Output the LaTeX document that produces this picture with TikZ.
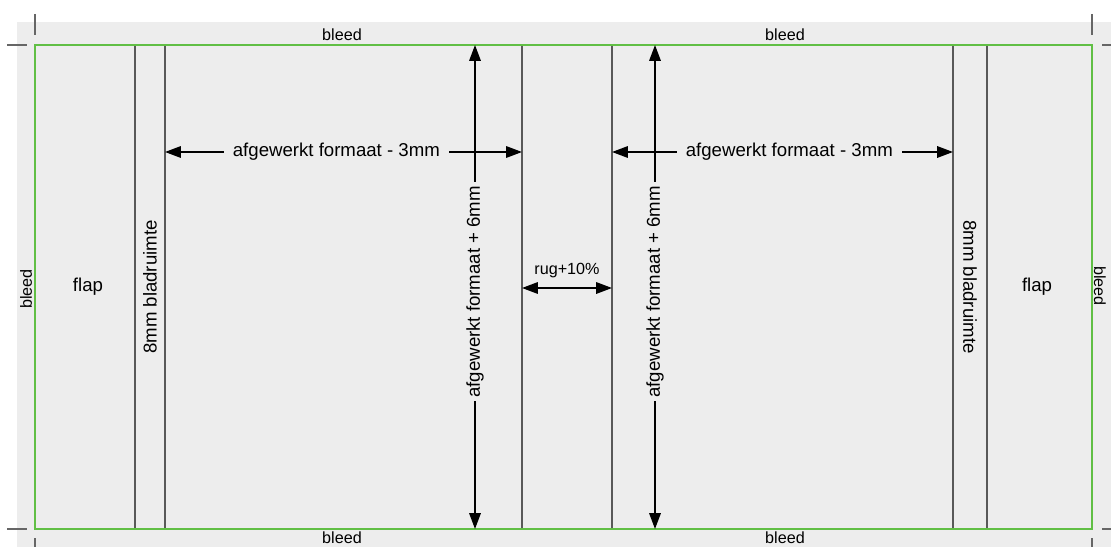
\documentclass[tikz,border=0pt]{standalone}
\usepackage{fontspec}
\setmainfont{Liberation Sans}
\usepackage{xcolor}
\definecolor{bg}{rgb}{0.93,0.93,0.93}
\definecolor{g}{rgb}{0.38,0.75,0.27}
\usepackage{tikz}
\usetikzlibrary{arrows.meta, positioning, calc}
\tikzstyle{fold} = [draw=black!65, line width=0.7pt]
\tikzstyle{crop} = [draw=black!60, line width=0.9pt]
\tikzstyle{dim} = [line width=1pt, {Triangle[length=9pt,width=6.5pt]}-{Triangle[length=9pt,width=6.5pt]}]
\tikzstyle{lbl} = [font=\fontsize{10.6}{12}\selectfont, inner sep=0pt]
\tikzstyle{small} = [font=\fontsize{9.2}{11}\selectfont, inner sep=0pt]

\begin{document}
\begin{tikzpicture}[x=0.02cm, y=-0.02cm]
    \useasboundingbox (0,0) rectangle (1111,547);
    \fill[bg] (17,22) rectangle (1111,547);

    % crop marks
    \draw[crop] (35,14) -- (35,35);
    \draw[crop] (7,45) -- (27,45);
    \draw[crop] (1092,14) -- (1092,35);
    \draw[crop] (1102,45) -- (1111,45);
    \draw[crop] (7,529) -- (27,529);
    \draw[crop] (35,538) -- (35,547);
    \draw[crop] (1102,529) -- (1111,529);
    \draw[crop] (1092,538) -- (1092,547);

    % folds
    \foreach \x/\n in {135/fa,165/fb,522/sa,612/sb,953/fc,987/fd}{
        \coordinate (\n t) at (\x,45);
        \coordinate (\n b) at (\x,529);
        \draw[fold] (\n t) -- (\n b);
    }

    % trim box
    \draw[g, line width=1.2pt] (35,45) rectangle (1092,529);

    % bleed labels
    \node[small] (bl1) at (342,35) {bleed};
    \node[small] (bl2) at (785,35) {bleed};
    \node[small] (bl3) at (342,538) {bleed};
    \node[small] (bl4) at (785,538) {bleed};
    \node[small, rotate=90] (bl5) at (26,289) {bleed};
    \node[small, rotate=-90] (bl6) at (1100,286) {bleed};

    % flaps
    \node[lbl] (flapl) at (88,287) {flap};
    \node[lbl] (flapr) at (1037,287) {flap};
    \node[lbl, rotate=90] (gutl) at (150,287) {8mm bladruimte};
    \node[lbl, rotate=-90] (gutr) at (970,287) {8mm bladruimte};

    % height arrows
    \coordinate (hlt) at (475,45);
    \coordinate (hlb) at (475,529);
    \coordinate (hrt) at (655,45);
    \coordinate (hrb) at (655,529);
    \draw[dim] (hlb) -- node[lbl, pos=0.49, rotate=90, fill=bg, inner xsep=2pt] {afgewerkt formaat + 6mm} (hlt);
    \draw[dim] (hrb) -- node[lbl, pos=0.49, rotate=90, fill=bg, inner xsep=2pt] {afgewerkt formaat + 6mm} (hrt);

    % width arrows
    \coordinate (wla) at (165,152);
    \coordinate (wlb) at (522,152);
    \coordinate (wra) at (612,152);
    \coordinate (wrb) at (953,152);
    \draw[dim] (wla) -- node[lbl, pos=0.48, fill=bg, inner xsep=5pt] {afgewerkt formaat - 3mm} (wlb);
    \draw[dim] (wra) -- node[lbl, pos=0.52, fill=bg, inner xsep=5pt] {afgewerkt formaat - 3mm} (wrb);

    % spine
    \coordinate (spa) at (522,288);
    \coordinate (spb) at (612,288);
    \draw[dim] (spa) -- node[small, above=5pt] {rug+10\%} (spb);
\end{tikzpicture}
\end{document}
